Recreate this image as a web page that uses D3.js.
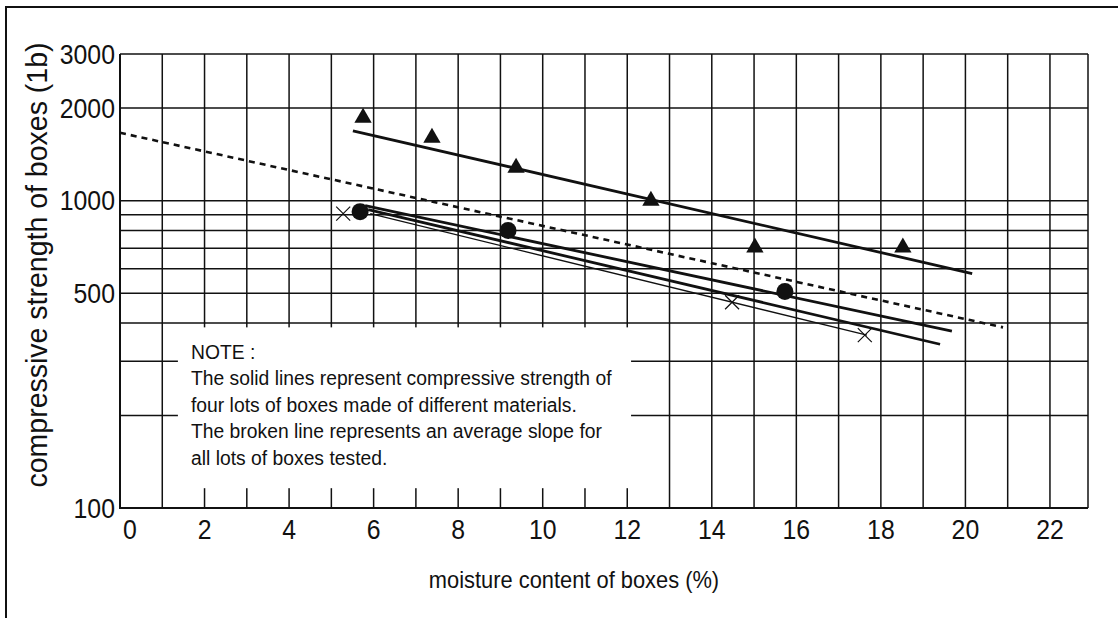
<!DOCTYPE html>
<html>
<head>
<meta charset="utf-8">
<script src="https://cdn.jsdelivr.net/npm/d3@7"></script>
<style>
  body { margin: 0; background: #fff; }
  svg { display: block; font-family: "Liberation Sans", Arial, sans-serif; }
</style>
</head>
<body>
<div id="chart"></div>
<script>
// moisture vs compressive strength (log y)

const xTicks = [0, 2, 4, 6, 8, 10, 12, 14, 16, 18, 20, 22];
const xGrid = d3.range(0, 23);
const yTicks = [100, 500, 1000, 2000, 3000];
const yGrid = [100, 200, 300, 400, 500, 600, 700, 800, 900, 1000, 2000, 3000];

// lot 1 - triangles
const triX = [5.75, 7.38, 9.37, 12.56, 15.02, 18.52];
const triY = [1860, 1601, 1280, 1000, 704, 704];
// lot 2 - circles
const dotX = [5.68, 9.18, 15.73];
const dotY = [921, 799, 506];
// lot 4 - crosses
const crossX = [5.28, 14.48, 17.62];
const crossY = [907, 467, 365];

// fitted lines (start, end)
const lineTriX = [5.51, 20.16], lineTriY = [1688, 579];
const lineDotX = [5.80, 19.68], lineDotY = [963, 376];
const lineLot3X = [5.87, 19.40], lineLot3Y = [935, 341];
const lineCrossX = [5.92, 17.67], lineCrossY = [907, 365];
const avgX = [0, 20.89], avgY = [1663, 387];

const noteLines = [
    'NOTE :',
    'The solid lines represent compressive strength of',
    'four lots of boxes made of different materials.',
    'The broken line represents an average slope for',
    'all lots of boxes tested.'
];

const width = 1118, height = 618;

const svg = d3.select('#chart').append('svg')
    .attr('width', width)
    .attr('height', height);

const x = d3.scaleLinear().domain([0, 22.9]).range([120, 1088]);
const y = d3.scaleLog().domain([100, 3000]).range([508, 54]);

// outer frame
svg.append('path')
    .attr('d', `M6,${height} V7 H${width}`)
    .attr('fill', 'none')
    .attr('stroke', '#111')
    .attr('stroke-width', 2);

// grid
const grid = svg.append('g').attr('stroke', '#111').attr('stroke-width', 1.5);

grid.selectAll('.vg')
    .data(xGrid)
    .join('line')
    .attr('x1', d => x(d)).attr('x2', d => x(d))
    .attr('y1', y(3000)).attr('y2', y(100));

grid.append('line')
    .attr('x1', x(22.9)).attr('x2', x(22.9))
    .attr('y1', y(3000)).attr('y2', y(100));

grid.selectAll('.hg')
    .data(yGrid)
    .join('line')
    .attr('x1', x(0)).attr('x2', x(22.9))
    .attr('y1', d => y(d)).attr('y2', d => y(d));

// the note sits in a blank patch of the grid
svg.append('rect')
    .attr('x', x(1.37))
    .attr('y', y(387))
    .attr('width', x(12.09) - x(1.37))
    .attr('height', y(116) - y(387))
    .attr('fill', '#fff');

// axis frame lines a bit heavier
svg.append('path')
    .attr('d', `M${x(0)},${y(3000)} V${y(100)} H${x(22.9)}`)
    .attr('fill', 'none')
    .attr('stroke', '#111')
    .attr('stroke-width', 2);

// tick labels (the scan uses a narrow face)
svg.selectAll('.xl')
    .data(xTicks)
    .join('text')
    .attr('transform', d => `translate(${x(d) + (d === 0 ? 10 : 0)},539) scale(0.92,1)`)
    .attr('text-anchor', 'middle')
    .style('font-size', '27px')
    .style('fill', '#111')
    .text(d => d);

svg.selectAll('.yl')
    .data(yTicks)
    .join('text')
    .attr('transform', d => `translate(115,${y(d)}) scale(0.92,1)`)
    .attr('dy', '0.36em')
    .attr('text-anchor', 'end')
    .style('font-size', '27px')
    .style('fill', '#111')
    .text(d => d);

// axis titles
svg.append('text')
    .attr('transform', 'translate(574,588) scale(0.93,1)')
    .attr('text-anchor', 'middle')
    .style('font-size', '23.5px')
    .style('fill', '#111')
    .text('moisture content of boxes (%)');

svg.append('text')
    .attr('transform', 'translate(47, 265) rotate(-90) scale(0.95,1)')
    .attr('text-anchor', 'middle')
    .style('font-size', '30px')
    .style('fill', '#111')
    .text('compressive strength of boxes (1b)');

// lines
const pairs = (xs, ys) => xs.map((v, i) => [v, ys[i]]);
const lineGen = d3.line().x(d => x(d[0])).y(d => y(d[1]));

const lines = [
    { pts: pairs(lineTriX, lineTriY), w: 2.8, dash: null },
    { pts: pairs(lineDotX, lineDotY), w: 2.8, dash: null },
    { pts: pairs(lineLot3X, lineLot3Y), w: 2.8, dash: null },
    { pts: pairs(lineCrossX, lineCrossY), w: 1.4, dash: null },
    { pts: pairs(avgX, avgY), w: 2.6, dash: '6,5' }
];

svg.append('g')
    .selectAll('path')
    .data(lines)
    .join('path')
    .attr('d', d => lineGen(d.pts))
    .attr('fill', 'none')
    .attr('stroke', '#111')
    .attr('stroke-width', d => d.w)
    .attr('stroke-dasharray', d => d.dash);

// markers
svg.append('g')
    .selectAll('path')
    .data(pairs(triX, triY))
    .join('path')
    .attr('transform', d => `translate(${x(d[0])},${y(d[1])})`)
    .attr('d', d3.symbol(d3.symbolTriangle, 130))
    .attr('fill', '#111');

svg.append('g')
    .selectAll('circle')
    .data(pairs(dotX, dotY))
    .join('circle')
    .attr('cx', d => x(d[0]))
    .attr('cy', d => y(d[1]))
    .attr('r', 8.5)
    .attr('fill', '#111');

svg.append('g')
    .selectAll('path')
    .data(pairs(crossX, crossY))
    .join('path')
    .attr('transform', d => `translate(${x(d[0])},${y(d[1])})`)
    .attr('d', 'M-7,-7L7,7M-7,7L7,-7')
    .attr('fill', 'none')
    .attr('stroke', '#111')
    .attr('stroke-width', 1.2);

// note text, narrow like the original
svg.append('g')
    .attr('transform', 'translate(191,0) scale(0.92,1)')
    .selectAll('text')
    .data(noteLines)
    .join('text')
    .attr('x', 0)
    .attr('y', (d, i) => 359 + i * 26.5)
    .style('font-size', '21px')
    .style('fill', '#111')
    .text(d => d);
</script>
</body>
</html>
